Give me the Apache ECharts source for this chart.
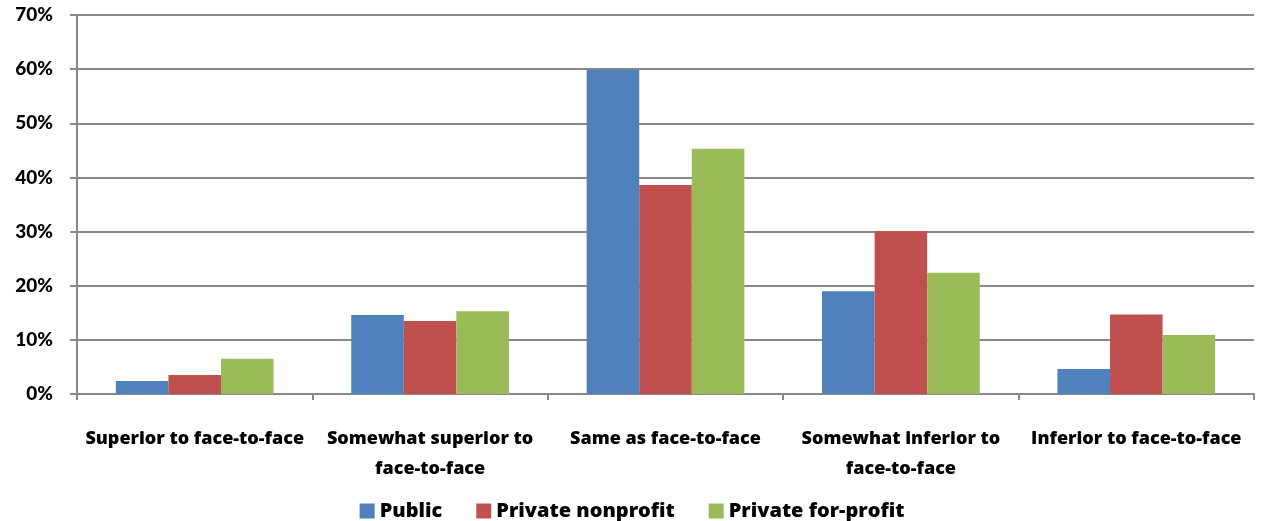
<!DOCTYPE html>
<html><head><meta charset="utf-8">
<script src="https://cdn.jsdelivr.net/npm/echarts@6/dist/echarts.min.js"></script>
<style>html,body{margin:0;padding:0;background:#fff}#c{width:1264px;height:521px}</style>
</head><body><div id="c"></div>
<script>
const categories = ['Superior to face-to-face', 'Somewhat superior to\nface-to-face', 'Same as face-to-face', 'Somewhat inferior to\nface-to-face', 'Inferior to face-to-face'];
const publicVals = [2.4, 14.6, 59.9, 19.0, 4.6];
const nonprofitVals = [3.5, 13.5, 38.6, 30.1, 14.7];
const forprofitVals = [6.5, 15.3, 45.3, 22.4, 10.9];
const seriesNames = ['Public', 'Private nonprofit', 'Private for-profit'];
const colors = ['#4F81BD', '#C0504D', '#9BBB59'];

const chart = echarts.init(document.getElementById('c'));
const font = '"Open Sans", "Noto Sans", sans-serif';
chart.setOption({
  animation: false,
  color: colors,
  legend: {
    top: 496, left: 'center', itemWidth: 15, itemHeight: 15, itemGap: 34,
    icon: 'rect',
    textStyle: {fontFamily: font, fontWeight: 800, fontSize: 20, color: '#000'},
    data: seriesNames
  },
  grid: {left: 77, right: 10, top: 15, bottom: 127, containLabel: false},
  xAxis: {
    type: 'category', data: categories,
    axisLine: {lineStyle: {color: '#888', width: 2}},
    axisTick: {show: true, length: 6, lineStyle: {color: '#888', width: 2}},
    axisLabel: {fontFamily: font, fontWeight: 800, fontSize: 18, color: '#000', lineHeight: 30, margin: 30, interval: 0}
  },
  yAxis: {
    type: 'value', min: 0, max: 70, interval: 10,
    axisLine: {show: true, lineStyle: {color: '#888', width: 2}},
    axisTick: {show: true, length: 7, lineStyle: {color: '#888', width: 2}},
    splitLine: {lineStyle: {color: '#888', width: 2}},
    axisLabel: {formatter: '{value}%', fontFamily: '"Lato", sans-serif', fontWeight: 900, fontSize: 19, color: '#000', margin: 24}
  },
  series: [
    {name: seriesNames[0], type: 'bar', data: publicVals, barGap: '0%', barCategoryGap: '33%'},
    {name: seriesNames[1], type: 'bar', data: nonprofitVals, barGap: '0%', barCategoryGap: '33%'},
    {name: seriesNames[2], type: 'bar', data: forprofitVals, barGap: '0%', barCategoryGap: '33%'}
  ]
});
</script></body></html>
